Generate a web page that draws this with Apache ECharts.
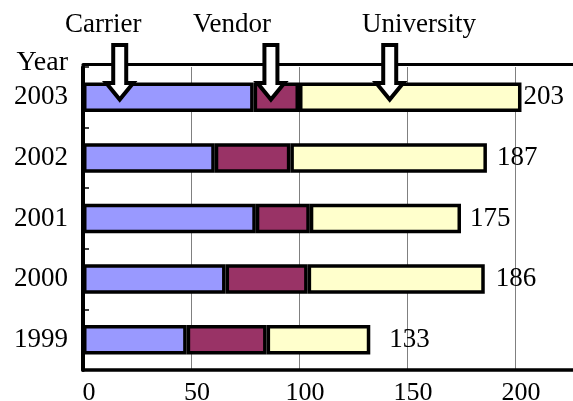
<!DOCTYPE html>
<html>
<head>
<meta charset="utf-8">
<script src="https://cdn.jsdelivr.net/npm/echarts@6/dist/echarts.min.js"></script>
<style>
  html, body { margin: 0; padding: 0; background: #ffffff; }
  #chart { width: 573px; height: 401px; }
</style>
</head>
<body>
<div id="chart"></div>
<script>
// Yearly counts, split by source
const years = ['1999', '2000', '2001', '2002', '2003'];
const carrier = [48, 66, 80, 61, 79];
const vendor = [37, 38, 25, 35, 21];
const university = [48, 82, 70, 91, 103];
const totals = [133, 186, 175, 187, 203];
const xTicks = [0, 50, 100, 150, 200];
const seriesNames = ['Carrier', 'Vendor', 'University'];
// callout arrows point into the 2003 bar at these values
const arrowTargets = [17, 87, 142];
const arrowYear = '2003';

const FONT = '"Liberation Serif", "Times New Roman", serif';
const colors = ['#9999ff', '#993366', '#ffffcc'];
// spacing between each bar end and its total
const totalGap = [19, 11, 9, 10, 2];
// callout caption placement (left x, middle y)
const captionPos = [[65, 27], [193, 27], [362, 27]];

const chart = echarts.init(document.getElementById('chart'), null, { renderer: 'canvas' });

const BAR_W = 29.5;
const BORDER = 3.5;

const barSeries = [carrier, vendor, university].map((vals, s) => ({
  name: seriesNames[s],
  type: 'bar',
  stack: 'total',
  barWidth: BAR_W,
  itemStyle: { color: colors[s], borderColor: '#000', borderWidth: BORDER },
  emphasis: { disabled: true },
  data: s < 2 ? vals : vals.map((v, i) => ({
    value: v,
    label: {
      show: true,
      position: 'right',
      distance: totalGap[i],
      padding: [7, 0, 0, 0],
      formatter: () => String(totals[i]),
      fontFamily: FONT,
      fontSize: 27,
      color: '#000'
    }
  }))
}));

const option = {
  animation: false,
  backgroundColor: '#ffffff',
  // the plot runs past the right edge of the canvas
  grid: { left: 83, right: -50, top: 67, bottom: 31, containLabel: false, outerBoundsMode: 'none' },
  xAxis: [
    {
      type: 'value',
      min: 0,
      max: 250,
      interval: 50,
      axisLine: { show: true, lineStyle: { color: '#000', width: 3.5 } },
      axisTick: { show: false },
      splitLine: { show: true, lineStyle: { color: '#808080', width: 1 } },
      axisLabel: {
        fontFamily: FONT,
        fontSize: 26,
        color: '#000',
        margin: 10,
        padding: [0, 0, 0, 12],
        formatter: v => (xTicks.indexOf(v) >= 0 ? String(v) : '')
      }
    },
    {
      type: 'value',
      position: 'top',
      min: 0,
      max: 250,
      offset: 2.5,
      axisLine: { show: true, lineStyle: { color: '#000', width: 3 } },
      axisTick: { show: false },
      axisLabel: { show: false },
      splitLine: { show: false }
    }
  ],
  yAxis: {
    type: 'category',
    data: years,
    axisLine: { show: true, lineStyle: { color: '#000', width: 4 } },
    axisTick: { show: true, inside: true, length: 6, lineStyle: { color: '#000', width: 1.5 } },
    axisLabel: { fontFamily: FONT, fontSize: 27, color: '#000', margin: 15, padding: [8, 0, 0, 0] },
    splitLine: { show: false }
  },
  series: barSeries
};

chart.setOption(option);

// Block arrows with captions, anchored to the 2003 bar
function arrowPoints(cx, topY, baseY, tipY) {
  const sw = 6.5, hw = 13.5;
  return [
    [cx - sw, topY], [cx + sw, topY], [cx + sw, baseY], [cx + hw, baseY],
    [cx, tipY], [cx - hw, baseY], [cx - sw, baseY]
  ];
}

const graphics = [];
arrowTargets.forEach((val, k) => {
  const p = chart.convertToPixel({ xAxisIndex: 0, yAxisIndex: 0 }, [val, arrowYear]);
  const barTop = p[1] - BAR_W / 2;
  graphics.push({
    type: 'polygon',
    z: 100,
    shape: { points: arrowPoints(p[0], 45, barTop + 0.5, barTop + 17) },
    style: { fill: '#ffffff', stroke: '#000', lineWidth: 4, lineJoin: 'miter' },
    silent: true
  });
  graphics.push({
    type: 'text',
    z: 100,
    left: captionPos[k][0],
    top: captionPos[k][1] - 16,
    style: { text: seriesNames[k], fontFamily: FONT, fontSize: 27, fill: '#000' },
    silent: true
  });
});

graphics.push({
  type: 'text',
  z: 100,
  right: 573 - 68,
  top: 49,
  style: { text: 'Year', fontFamily: FONT, fontSize: 28, fill: '#000' },
  silent: true
});

chart.setOption({ graphic: graphics });
</script>
</body>
</html>
